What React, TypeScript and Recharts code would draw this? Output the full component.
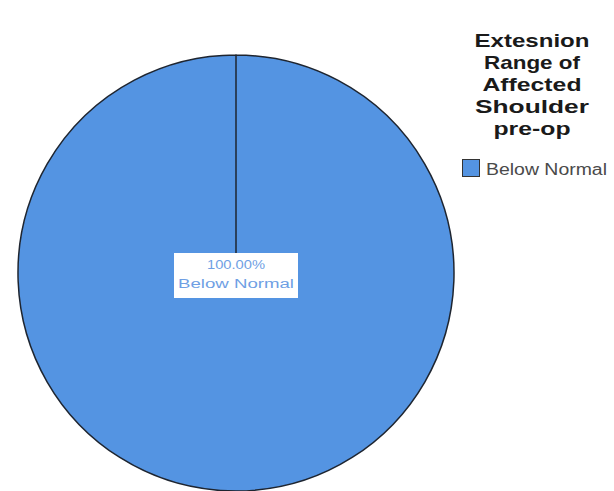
import { Legend, Pie, PieChart } from "recharts";

const categories = ["Below Normal"];
const counts = [100];
const legendTitle = ["Extesnion", "Range of", "Affected", "Shoulder", "pre-op"];
const titleWidths = [115, 96, 99, 114, 77];

const pieData = categories.map((name, i) => ({ name, value: counts[i] }));

const FONT = "'Liberation Sans', Arial, sans-serif";
const FILL = "#5494e2";

function CenterLabel(props: any) {
  const { cx, cy, percent, name } = props;
  return (
    <g>
      <rect x={cx - 62} y={cy - 20} width={124} height={45} fill="#ffffff" />
      <text
        x={cx}
        y={cy - 4}
        textAnchor="middle"
        fontFamily={FONT}
        fontSize={12}
        fill="#6f9fe4"
        textLength={58}
        lengthAdjust="spacingAndGlyphs"
      >
        {`${(percent * 100).toFixed(2)}%`}
      </text>
      <text
        x={cx}
        y={cy + 15}
        textAnchor="middle"
        fontFamily={FONT}
        fontSize={12}
        fill="#6f9fe4"
        textLength={116}
        lengthAdjust="spacingAndGlyphs"
      >
        {name}
      </text>
    </g>
  );
}

function LegendBox() {
  return (
    <svg width={150} height={190}>
      {legendTitle.map((line, i) => (
        <text
          key={line}
          x={72}
          y={27 + i * 22}
          textAnchor="middle"
          fontFamily={FONT}
          fontWeight="bold"
          fontSize={19}
          fill="#1a1a1a"
          textLength={titleWidths[i]}
          lengthAdjust="spacingAndGlyphs"
        >
          {line}
        </text>
      ))}
      <rect x={2.5} y={139.5} width={17} height={17} fill={FILL} stroke="#333" strokeWidth={1} />
      {categories.map((c) => (
        <text
          key={c}
          x={26}
          y={155}
          fontFamily={FONT}
          fontSize={16}
          fill="#4a4a4a"
          textLength={121}
          lengthAdjust="spacingAndGlyphs"
        >
          {c}
        </text>
      ))}
    </svg>
  );
}

export default function App() {
  return (
    <div style={{ position: "absolute", left: 0, top: 0, width: 614, height: 491, background: "#fff" }}>
      <PieChart width={614} height={491} margin={{ top: 0, right: 0, bottom: 0, left: 0 }}>
        <Pie
          data={pieData}
          dataKey="value"
          nameKey="name"
          cx={236}
          cy={273}
          outerRadius={218}
          startAngle={90}
          endAngle={-270}
          fill={FILL}
          stroke="#1e2530"
          strokeWidth={1.5}
          label={CenterLabel}
          labelLine={false}
          isAnimationActive={false}
        />
        <Legend
          content={() => <LegendBox />}
          wrapperStyle={{ position: "absolute", left: 460, top: 20, width: 150 }}
        />
      </PieChart>
    </div>
  );
}
